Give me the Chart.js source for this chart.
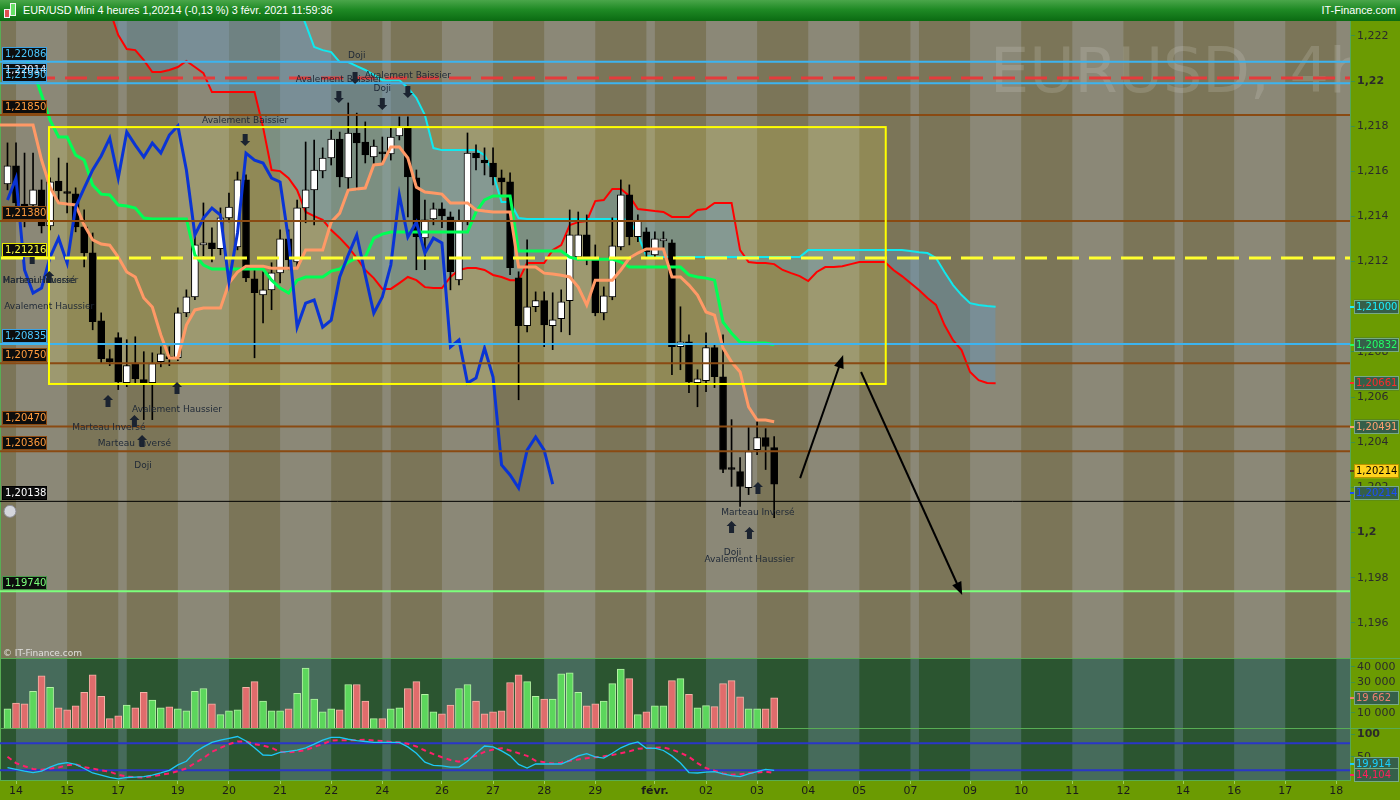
<!DOCTYPE html>
<html lang="fr">
<head>
<meta charset="UTF-8" />
<title>EUR/USD Mini 4 heures</title>
<style>
  html, body { margin: 0; padding: 0; }
  body {
    width: 1400px;
    height: 800px;
    overflow: hidden;
    position: relative;
    background: #6b9b02;
    font-family: 'DejaVu Sans', sans-serif;
  }
  #bar {
    position: absolute;
    left: 0; top: 0;
    width: 1400px; height: 21px;
    background: linear-gradient(#4aa64a 0%, #1f8a25 45%, #0b6b12 100%);
    color: #fff;
    font: 10.8px 'Liberation Sans', Arial, sans-serif;
    line-height: 21px;
  }
  #bar .t { position: absolute; left: 23px; top: 0; }
  #bar .site { position: absolute; right: 4px; top: 0; }
  #bar .ic { position: absolute; border: 1px solid #f4f4f4; }
  canvas { position: absolute; left: 0; }
</style>
</head>
<body>
<div id="bar">
  <span class="ic" style="left:4px;top:9px;width:4px;height:7px;background:#e05050"></span>
  <span class="ic" style="left:10px;top:3px;width:4px;height:11px;background:#66e066"></span>
  <span class="t">EUR/USD Mini 4 heures 1,20214 (-0,13 %) 3 févr. 2021 11:59:36</span>
  <span class="site">IT-Finance.com</span>
</div>
<canvas id="priceChart" width="1400" height="637" style="top:21px"></canvas>
<canvas id="volChart" width="1400" height="70" style="top:658px"></canvas>
<canvas id="oscChart" width="1400" height="72" style="top:728px"></canvas>

<script src="https://cdn.jsdelivr.net/npm/chart.js@4.4.0/dist/chart.umd.min.js"></script>
<script>
// ---- bougies 4h (index 0 = 13 janv. 20h) ----
const opens = [
  1.21544,1.21624,1.21455,1.21451,1.21518,1.21358,1.21557,1.21506,1.21500,1.21354,
  1.21239,1.20938,1.20770,1.20863,1.20664,1.20748,1.20677,1.20664,1.20757,1.20775,
  1.20774,1.20973,1.21044,1.21274,1.21283,1.21257,1.21394,1.21265,1.21562,1.21124,
  1.21053,1.21075,1.21150,1.21301,1.21199,1.21438,1.21518,1.21602,1.21659,1.21743,
  1.21571,1.21770,1.21730,1.21664,1.21681,1.21677,1.21757,1.21796,1.21571,1.21305,
  1.21389,1.21434,1.21398,1.21119,1.21380,1.21681,1.21650,1.21637,1.21571,1.21553,
  1.21128,1.20916,1.21000,1.21027,1.20916,1.20947,1.21027,1.21221,1.21319,1.21217,
  1.20973,1.21044,1.21265,1.21496,1.21310,1.21332,1.21230,1.21292,1.21283,1.20823,
  1.20845,1.20664,1.20673,1.20819,1.20690,1.20283,1.20270,1.20199,1.20367,1.20420,
  1.20376];
const highs = [
  1.21726,1.21726,1.21681,1.21681,1.21562,1.21571,1.21659,1.21637,1.21527,1.21429,
  1.21327,1.20973,1.20810,1.20885,1.20854,1.20867,1.20801,1.20796,1.20823,1.20823,
  1.20995,1.21075,1.21327,1.21460,1.21350,1.21438,1.21504,1.21597,1.21584,1.21164,
  1.21155,1.21195,1.21341,1.21341,1.21473,1.21730,1.21739,1.21704,1.21783,1.21774,
  1.21903,1.21858,1.21819,1.21739,1.21752,1.21792,1.21841,1.21841,1.21606,1.21473,
  1.21460,1.21460,1.21420,1.21429,1.21770,1.21717,1.21704,1.21704,1.21606,1.21593,
  1.21155,1.21296,1.21066,1.21066,1.21062,1.21075,1.21429,1.21420,1.21407,1.21274,
  1.21088,1.21394,1.21562,1.21540,1.21407,1.21350,1.21332,1.21332,1.21296,1.21000,
  1.20876,1.20721,1.20885,1.20832,1.20876,1.20500,1.20332,1.20465,1.20491,1.20460,
  1.20425];
const lows = [
  1.21518,1.21429,1.21354,1.21420,1.21327,1.21341,1.21460,1.21416,1.21332,1.21177,
  1.20898,1.20752,1.20739,1.20633,1.20646,1.20659,1.20500,1.20500,1.20734,1.20739,
  1.20761,1.20956,1.21031,1.21226,1.21199,1.21230,1.21376,1.21252,1.21111,1.20774,
  1.20929,1.20987,1.21106,1.21164,1.21173,1.21372,1.21363,1.21571,1.21628,1.21531,
  1.21518,1.21518,1.21637,1.21628,1.21628,1.21650,1.21739,1.21398,1.21164,1.21164,
  1.21363,1.21350,1.21075,1.21097,1.21363,1.21606,1.21584,1.21540,1.21495,1.21142,
  1.20588,1.20889,1.20978,1.20823,1.20810,1.20889,1.20876,1.21208,1.21186,1.20960,
  1.20942,1.21031,1.21252,1.21274,1.21288,1.21217,1.21217,1.21252,1.20699,1.20721,
  1.20619,1.20557,1.20624,1.20642,1.20265,1.20204,1.20115,1.20168,1.20345,1.20279,
  1.20066];
const closes = [
  1.21624,1.21460,1.21440,1.21518,1.21358,1.21553,1.21513,1.21502,1.21354,1.21239,
  1.20934,1.20770,1.20757,1.20668,1.20739,1.20681,1.20664,1.20748,1.20792,1.20770,
  1.20973,1.21044,1.21274,1.21283,1.21257,1.21394,1.21442,1.21562,1.21128,1.21062,
  1.21075,1.21150,1.21301,1.21208,1.21438,1.21518,1.21606,1.21659,1.21743,1.21575,
  1.21770,1.21726,1.21673,1.21712,1.21677,1.21752,1.21796,1.21575,1.21310,1.21385,
  1.21434,1.21403,1.21155,1.21380,1.21681,1.21659,1.21637,1.21575,1.21553,1.21173,
  1.20916,1.21000,1.21027,1.20920,1.20942,1.21022,1.21319,1.21319,1.21221,1.20973,
  1.21049,1.21270,1.21496,1.21310,1.21380,1.21243,1.21301,1.21292,1.20823,1.20845,
  1.20668,1.20681,1.20819,1.20690,1.20279,1.20279,1.20204,1.20358,1.20420,1.20381,
  1.20214];
const volumes = [
  12500,16300,15700,23900,34100,26500,13100,11800,14400,23300,
  34700,20700,6100,8000,15000,13100,23300,18200,13100,13800,
  12500,11200,23900,25800,15700,8700,11200,11800,26500,30300,
  17600,11200,11200,12500,22700,39200,18900,10600,12500,11800,
  28400,28400,17600,6100,6100,12500,13100,25800,30300,22000,
  10600,9300,15000,25800,28400,17600,9300,10600,11200,29700,
  34700,30300,20700,18900,18900,35400,36000,23300,14400,15700,
  17600,29000,38500,32200,8700,10600,14400,14400,30900,32200,
  22000,13100,14600,14000,29000,30900,20300,12500,12500,12500,
  19662];

// ---- Ichimoku ----
const tenkanStart = -1; // the salmon line is already drawn from the left edge
const tenkan = [
  1.21805,
  1.21805,1.21805,1.21805,1.21805,1.21650,1.21530,1.21460,1.21455,1.21451,1.21362,
  1.21296,1.21278,1.21273,1.21220,1.21154,1.21132,1.21039,1.20999,1.20875,1.20773,
  1.20773,1.20919,1.20986,1.20994,1.20994,1.20994,1.21105,1.21154,1.21180,1.21180,
  1.21180,1.21171,1.21171,1.21171,1.21171,1.21251,1.21251,1.21251,1.21375,1.21415,
  1.21517,1.21522,1.21526,1.21628,1.21632,1.21708,1.21708,1.21659,1.21530,1.21508,
  1.21504,1.21499,1.21460,1.21460,1.21460,1.21429,1.21424,1.21420,1.21420,1.21420,
  1.21176,1.21176,1.21176,1.21149,1.21145,1.21140,1.21132,1.21087,1.21008,1.21118,
  1.21118,1.21118,1.21163,1.21216,1.21238,1.21256,1.21256,1.21256,1.21132,1.21132,
  1.21096,1.21052,1.20977,1.20963,1.20817,1.20755,1.20711,1.20556,1.20498,1.20498,
  1.20491];
const kijun = [
  1.22102,1.22102,1.22102,1.22049,1.21938,1.21827,1.21752,1.21752,1.21672,1.21650,
  1.21539,1.21499,1.21495,1.21451,1.21446,1.21437,1.21393,1.21389,1.21389,1.21389,
  1.21389,1.21389,1.21229,1.21185,1.21167,1.21167,1.21167,1.21167,1.21167,1.21167,
  1.21167,1.21118,1.21083,1.21061,1.21118,1.21132,1.21132,1.21132,1.21158,1.21167,
  1.21198,1.21216,1.21220,1.21304,1.21322,1.21331,1.21331,1.21331,1.21331,1.21331,
  1.21331,1.21331,1.21331,1.21331,1.21331,1.21420,1.21473,1.21491,1.21491,1.21491,
  1.21247,1.21247,1.21247,1.21247,1.21247,1.21247,1.21220,1.21211,1.21211,1.21211,
  1.21211,1.21211,1.21198,1.21176,1.21176,1.21176,1.21176,1.21176,1.21176,1.21176,
  1.21141,1.21132,1.21127,1.21118,1.20932,1.20883,1.20843,1.20839,1.20839,1.20839,
  1.20832];
const spanStart = 12; // spans projected 26 bars ahead, first visible at index 12
const spanA = [
  1.2235,1.2235,1.2235,1.2235,1.2235,1.2235,1.2235,1.2235,1.2235,1.2235,
  1.2235,1.2235,1.2235,1.2235,1.2235,1.2235,1.2235,1.2235,1.2235,1.2235,
  1.2235,1.2235,1.2235,1.22252,1.22151,1.22137,1.22128,1.22084,1.22084,1.22066,
  1.22049,1.22027,1.22004,1.22004,1.22004,1.21969,1.21925,1.21849,1.21703,1.21694,
  1.21694,1.21694,1.21694,1.21694,1.21672,1.21592,1.21464,1.21464,1.21393,1.21389,
  1.21389,1.21389,1.21389,1.21389,1.21389,1.21389,1.21389,1.21389,1.21389,1.21389,
  1.21389,1.21384,1.21318,1.21225,1.21220,1.21220,1.21220,1.21220,1.21220,1.21220,
  1.21220,1.21220,1.21220,1.21220,1.21220,1.21220,1.21220,1.21220,1.21220,1.21220,
  1.21220,1.21220,1.21251,1.21251,1.21251,1.21251,1.21251,1.21251,1.21251,1.21251,
  1.21251,1.21251,1.21251,1.21251,1.21247,1.21242,1.21238,1.21216,1.21154,1.21096,
  1.21052,1.21016,1.21008,1.21003,1.21000];
const spanB = [
  1.22314,1.22204,1.22142,1.22137,1.22093,1.22040,1.22040,1.22049,1.22062,1.22089,
  1.22062,1.22035,1.21951,1.21951,1.21951,1.21951,1.21951,1.21951,1.21796,1.21606,
  1.21601,1.21570,1.21517,1.21420,1.21402,1.21385,1.21340,1.21305,1.21265,1.21216,
  1.21163,1.21127,1.21079,1.21079,1.21105,1.21132,1.21118,1.21087,1.21083,1.21083,
  1.21132,1.21163,1.21172,1.21172,1.21163,1.21141,1.21132,1.21118,1.21118,1.21194,
  1.21194,1.21194,1.21251,1.21273,1.21362,1.21375,1.21380,1.21468,1.21473,1.21522,
  1.21522,1.21491,1.21433,1.21429,1.21424,1.21420,1.21398,1.21398,1.21398,1.21429,
  1.21433,1.21460,1.21460,1.21460,1.21251,1.21198,1.21194,1.21194,1.21189,1.21163,
  1.21149,1.21136,1.21114,1.21154,1.21176,1.21176,1.21180,1.21189,1.21198,1.21198,
  1.21198,1.21198,1.21163,1.21136,1.21105,1.21074,1.21039,1.21008,1.20919,1.20852,
  1.20808,1.20711,1.20675,1.20662,1.20661];
const chikou = [
  1.21473,1.21570,1.21163,1.21061,1.21083,1.21220,1.21304,1.21194,1.21442,1.21526,
  1.21606,1.21668,1.21747,1.21570,1.21774,1.21716,1.21663,1.21725,1.21681,1.21761,
  1.21801,1.21606,1.21318,1.21393,1.21437,1.21406,1.21110,1.21327,1.21681,1.21650,
  1.21637,1.21570,1.21553,1.21296,1.20910,1.21016,1.21030,1.20910,1.20941,1.21132,
  1.21229,1.21318,1.21141,1.20972,1.21043,1.21185,1.21495,1.21309,1.21375,1.21238,
  1.21304,1.21283,1.20822,1.20853,1.20662,1.20684,1.20817,1.20689,1.20299,1.20255,
  1.20197,1.20365,1.20423,1.20365,1.20214];

// ---- stochastique ----
const stochK = [
  26,22,18,15,18,27,34,37,33,24, 14,9,4,1,4,5,6,9,14,20,
  32,40,60,72,82,87,91,95,85,70, 54,53,60,62,65,70,78,87,93,93,
  89,86,84,82,82,82,82,72,58,38, 31,30,27,27,40,58,74,72,63,52,
  33,25,34,34,34,34,42,52,57,50, 47,58,70,78,83,69,69,64,52,36,
  15,14,16,17,12,8,6,12,17,22, 19.914];
const stochD = [
  50,36,29,23,21,24,26,31,33,27, 24,20,17,10,6,5,4,7,10,13,
  18,24,36,47,61,70,78,84,84,78, 75,70,61,60,62,65,72,78,86,87,
  87,87,88,86,85,83,82,79,73,64, 56,49,43,39,47,52,61,66,69,64,
  58,52,41,38,35,37,41,44,47,49, 51,54,58,62,68,69,70,71,66,59,
  50,36,25,19,13,10,11,14,15,17, 14.104];
const stochLevels = [80, 20];

// ---- niveaux, zone, tracés ----
const levelValues = [1.22086, 1.22014, 1.21990, 1.21850, 1.21380, 1.21216, 1.20835, 1.20750, 1.20470, 1.20360, 1.20138, 1.19740];
const zoneIdx = [4.87, 103.1];
const zonePrice = [1.20658, 1.21796];
const trendFromIdx = [93.05, 100.2];
const trendFromPrice = [1.20241, 1.20711];
const trendToIdx = [98.1, 112.07];
const trendToPrice = [1.20786, 1.19723];

const patternIdx = [41.0, 38.9, 47.0, 44.0, 27.9, 3.7, 3.9, 4.9, 19.9, 11.9, 14.9, 15.9, 88.1, 85.1, 87.1];
const patternPrice = [1.22111, 1.22004, 1.22026, 1.21965, 1.21823, 1.21114, 1.21114, 1.20999, 1.20543, 1.20463, 1.20392, 1.20294, 1.20086, 1.19909, 1.19878];
const patternText = ['Doji', 'Avalement Baissier', 'Avalement Baissier', 'Doji', 'Avalement Baissier',
  'Marteau Inversé', 'Harami Haussier', 'Avalement Haussier', 'Avalement Haussier', 'Marteau Inversé',
  'Marteau Inversé', 'Doji', 'Marteau Inversé', 'Doji', 'Avalement Haussier'];
const markIdx = [38.9, 40.8, 44.0, 47.0, 27.9, 2.9, 4.9, 11.8, 14.9, 15.8, 19.9, 88.1, 85.0, 87.1];
const markPrice = [1.21929, 1.22013, 1.21898, 1.21951, 1.21739, 1.21216, 1.21132, 1.20582, 1.20494, 1.20405, 1.20640, 1.20197, 1.20024, 1.19998];
const markDir = [-1, -1, -1, -1, -1, 1, 1, 1, 1, 1, 1, 1, 1, 1];

// ---- axes ----
const dayStarts = [1, 7, 13, 14, 20, 26, 32, 38, 44, 45, 51, 57, 63, 69, 75, 76, 82, 88, 94, 100, 106, 107, 113, 119, 125, 131, 137, 138, 144, 150, 156];
const dayTickIdx = [1, 7, 13, 20, 26, 32, 38, 44, 51, 57, 63, 69, 76, 82, 88, 94, 100, 106, 113, 119, 125, 131, 138, 144, 150, 156];
const dayTickLabels = ['14', '15', '17', '19', '20', '21', '22', '24', '26', '27', '28', '29', 'févr.', '02', '03', '04', '05', '07', '09', '10', '11', '12', '14', '16', '17', '18'];
const priceTicks = [1.196, 1.198, 1.2, 1.202, 1.204, 1.206, 1.208, 1.21, 1.212, 1.214, 1.216, 1.218, 1.22, 1.222];
const volumeTicks = [10000, 20000, 30000, 40000];
const oscTicks = [50, 100];

// ---------------- styles ----------------
const X_MIN = -0.88, X_MAX = 157.6;
const FONT = "'DejaVu Sans', sans-serif";
const BLUE_LVL = { line: '#3cb4f0', width: 2, dash: [], text: '#4cc8ff', box: '#3ca0e0' };
const BROWN_LVL = { line: '#8a4a12', width: 2, dash: [], text: '#ff9b3d', box: '#8a4a12' };
const levelStyles = [
  BLUE_LVL,
  { line: '#e43c3c', width: 3, dash: [22, 10], text: '#e8eeff', box: '#3ca0e0' },
  BLUE_LVL, BROWN_LVL, BROWN_LVL,
  { line: '#ffff30', width: 3, dash: [22, 10], text: '#ffff40', box: '#e6e600' },
  BLUE_LVL, BROWN_LVL, BROWN_LVL, BROWN_LVL,
  { line: '#000000', width: 1, dash: [], text: '#ffffff', box: '#000000' },
  { line: '#7cff7c', width: 2, dash: [], text: '#7cff7c', box: '#4a9a4a' }
];

const pts = (vals, start = 0) => vals.map((v, k) => ({ x: start + k, y: v }));
const last = arr => arr[arr.length - 1];
const fmtPrice = (v, d) => v.toFixed(d).replace('.', ',');
const fmtAxis = v => v.toFixed(3).replace(/0+$/, '').replace(/\.$/, '').replace('.', ',');
const fmtVol = v => String(Math.round(v)).replace(/\B(?=(\d{3})+(?!\d))/g, ' ');

function fixWidth(s) { s.width = 50; s.paddingTop = 0; s.paddingBottom = 0; }

function paintDays(ctx, a, x, dark, light) {
  ctx.save();
  ctx.fillStyle = dark;
  ctx.fillRect(a.left, a.top, a.width, a.height);
  ctx.fillStyle = light;
  for (let k = 0; k < dayStarts.length; k += 2) {
    const x1 = Math.max(a.left, x.getPixelForValue(dayStarts[k]));
    const x2 = Math.min(a.right, k + 1 < dayStarts.length ? x.getPixelForValue(dayStarts[k + 1]) : a.right);
    if (x2 > x1) ctx.fillRect(x1, a.top, x2 - x1, a.height);
  }
  // left border of the panel
  ctx.fillStyle = '#58ad54';
  ctx.fillRect(a.left, a.top, 1, a.height);
  ctx.restore();
}

function drawTag(ctx, y, text, fg, bg, border, mark) {
  ctx.save();
  ctx.fillStyle = mark;
  ctx.fillRect(1350, Math.round(y) - 1, 4, 2);
  ctx.fillStyle = bg;
  ctx.fillRect(1354, y - 7, 45, 14);
  ctx.strokeStyle = border;
  ctx.lineWidth = 1;
  ctx.strokeRect(1354.5, Math.round(y) - 6.5, 44, 13);
  ctx.fillStyle = fg;
  ctx.font = '10px ' + FONT;
  ctx.textBaseline = 'middle';
  ctx.textAlign = 'left';
  ctx.fillText(text, 1356, Math.round(y) + 0.5);
  ctx.restore();
}

function drawMark(ctx, cx, cy, dir) {
  ctx.beginPath();
  ctx.moveTo(cx, cy - 6 * dir);
  ctx.lineTo(cx + 5, cy - 1 * dir);
  ctx.lineTo(cx + 2.5, cy - 1 * dir);
  ctx.lineTo(cx + 2.5, cy + 6 * dir);
  ctx.lineTo(cx - 2.5, cy + 6 * dir);
  ctx.lineTo(cx - 2.5, cy - 1 * dir);
  ctx.lineTo(cx - 5, cy - 1 * dir);
  ctx.closePath();
  ctx.fill();
}

function arrowLine(ctx, x1, y1, x2, y2) {
  const a = Math.atan2(y2 - y1, x2 - x1);
  const L = 13, w = 5;
  ctx.beginPath();
  ctx.moveTo(x1, y1);
  ctx.lineTo(x2 - (L - 2) * Math.cos(a), y2 - (L - 2) * Math.sin(a));
  ctx.stroke();
  ctx.beginPath();
  ctx.moveTo(x2, y2);
  ctx.lineTo(x2 - L * Math.cos(a) + w * Math.sin(a), y2 - L * Math.sin(a) - w * Math.cos(a));
  ctx.lineTo(x2 - L * Math.cos(a) - w * Math.sin(a), y2 - L * Math.sin(a) + w * Math.cos(a));
  ctx.closePath();
  ctx.fill();
}

// ---------------- graphique des prix ----------------
const pricePanel = {
  id: 'pricePanel',
  beforeDraw(chart) {
    const { ctx, chartArea: a, scales: { x, y } } = chart;
    paintDays(ctx, a, x, '#7b7558', '#8b8877');
    ctx.save();
    ctx.beginPath();
    ctx.rect(a.left, a.top, a.width, a.height);
    ctx.clip();
    ctx.font = "62px 'DejaVu Sans', sans-serif";
    ctx.fillStyle = 'rgba(215,215,205,0.2)';
    ctx.textBaseline = 'alphabetic';
    ctx.fillText('EURUSD, 4h', 990, 71);
    const zx1 = x.getPixelForValue(zoneIdx[0]), zx2 = x.getPixelForValue(zoneIdx[1]);
    const zy1 = y.getPixelForValue(zonePrice[1]), zy2 = y.getPixelForValue(zonePrice[0]);
    ctx.fillStyle = 'rgba(255,240,80,0.16)';
    ctx.fillRect(zx1, zy1, zx2 - zx1, zy2 - zy1);
    ctx.restore();
  },
  afterDatasetsDraw(chart) {
    const { ctx, chartArea: a, scales: { x, y } } = chart;
    ctx.save();
    ctx.beginPath();
    ctx.rect(a.left, a.top, a.width, a.height);
    ctx.clip();
    // zone
    const zx1 = x.getPixelForValue(zoneIdx[0]), zx2 = x.getPixelForValue(zoneIdx[1]);
    const zy1 = y.getPixelForValue(zonePrice[1]), zy2 = y.getPixelForValue(zonePrice[0]);
    ctx.strokeStyle = '#ffff00';
    ctx.lineWidth = 2;
    ctx.strokeRect(zx1, zy1, zx2 - zx1, zy2 - zy1);
    // tracés de projection
    ctx.strokeStyle = '#000';
    ctx.fillStyle = '#000';
    ctx.lineWidth = 2;
    trendFromIdx.forEach((fi, k) => {
      arrowLine(ctx, x.getPixelForValue(fi), y.getPixelForValue(trendFromPrice[k]),
        x.getPixelForValue(trendToIdx[k]), y.getPixelForValue(trendToPrice[k]));
    });
    // figures chartistes
    ctx.fillStyle = '#1b2330';
    markIdx.forEach((mi, k) => drawMark(ctx, x.getPixelForValue(mi), y.getPixelForValue(markPrice[k]), markDir[k]));
    ctx.font = '9px ' + FONT;
    ctx.textAlign = 'center';
    ctx.textBaseline = 'middle';
    ctx.fillStyle = '#1e2836';
    patternIdx.forEach((pi, k) => ctx.fillText(patternText[k], x.getPixelForValue(pi), y.getPixelForValue(patternPrice[k])));
    // étiquettes des niveaux
    levelValues.forEach((v, k) => {
      const py = Math.round(y.getPixelForValue(v));
      ctx.fillStyle = '#0d0d0d';
      ctx.fillRect(2, py - 15, 45, 14);
      ctx.strokeStyle = levelStyles[k].box;
      ctx.lineWidth = 1;
      ctx.strokeRect(2.5, py - 14.5, 44, 13);
    });
    ctx.font = '10px ' + FONT;
    ctx.textAlign = 'left';
    levelValues.forEach((v, k) => {
      const py = Math.round(y.getPixelForValue(v));
      ctx.fillStyle = levelStyles[k].text;
      ctx.fillText(fmtPrice(v, 5), 5, py - 7.5);
    });
    // icône + copyright
    ctx.fillStyle = '#d4d6dc';
    ctx.strokeStyle = '#8c8c96';
    ctx.lineWidth = 1;
    ctx.beginPath();
    ctx.arc(10, y.getPixelForValue(1.20138) + 10, 6, 0, Math.PI * 2);
    ctx.fill();
    ctx.stroke();
    ctx.font = '9px ' + FONT;
    ctx.fillStyle = 'rgba(238,238,238,0.85)';
    ctx.textBaseline = 'alphabetic';
    ctx.fillText('© IT-Finance.com', 3, a.bottom - 2);
    ctx.restore();
  },
  afterDraw(chart) {
    const { ctx, scales: { y } } = chart;
    const bg = '#355f49', bd = '#76aa86';
    drawTag(ctx, y.getPixelForValue(last(spanA)), fmtPrice(last(spanA), 5), '#19f0ff', bg, bd, '#19f0ff');
    drawTag(ctx, y.getPixelForValue(last(kijun)), fmtPrice(last(kijun), 5), '#22ff66', bg, bd, '#22ff66');
    drawTag(ctx, y.getPixelForValue(last(spanB)), fmtPrice(last(spanB), 5), '#ff2a2a', bg, bd, '#ff2a2a');
    drawTag(ctx, y.getPixelForValue(last(tenkan)) + 5, fmtPrice(last(tenkan), 5), '#ffa070', bg, bd, '#ffa070');
    drawTag(ctx, y.getPixelForValue(last(closes)) - 13, fmtPrice(last(closes), 5), '#000000', '#ffd21c', '#b89400', '#5a3a20');
    drawTag(ctx, y.getPixelForValue(last(chikou)) + 9, fmtPrice(last(chikou), 5), '#1a4dff', bg, bd, '#1a4dff');
  }
};

const line = (data, color, width, order, extra) => Object.assign({
  type: 'line', data, borderColor: color, borderWidth: width,
  pointRadius: 0, tension: 0, fill: false, order
}, extra || {});

const levelSets = levelValues.map((v, k) => line(
  [{ x: X_MIN, y: v }, { x: X_MAX, y: v }],
  levelStyles[k].line, levelStyles[k].width, 1,
  { borderDash: levelStyles[k].dash, borderDashOffset: 31 }
));

new Chart(document.getElementById('priceChart'), {
  type: 'line',
  data: {
    datasets: [
      line(pts(spanB, spanStart), '#ff0000', 2, 10),
      line(pts(spanA, spanStart), '#11e8ee', 2, 9, { fill: '-1', backgroundColor: 'rgba(90,155,208,0.35)' }),
      {
        type: 'bar', data: lows.map((l, k) => ({ x: k, y: [l, highs[k]] })),
        backgroundColor: '#000', barThickness: 1, grouped: false, order: 7
      },
      {
        type: 'bar', data: opens.map((o, k) => ({ x: k, y: [o, closes[k]] })),
        backgroundColor: opens.map((o, k) => closes[k] >= o ? '#ffffff' : '#000000'),
        borderColor: '#000', borderWidth: 1, borderSkipped: false,
        barThickness: 7, minBarLength: 2, grouped: false, order: 6
      },
      line(pts(kijun), '#00ff55', 3, 5),
      line(pts(tenkan, tenkanStart), '#ff9966', 3, 4),
      line(pts(chikou), '#0a34d4', 3, 3),
      ...levelSets
    ]
  },
  options: {
    responsive: false,
    animation: false,
    events: [],
    layout: { padding: 0 },
    plugins: {
      legend: { display: false },
      tooltip: { enabled: false },
      filler: { drawTime: 'beforeDatasetsDraw' }
    },
    scales: {
      x: { type: 'linear', min: X_MIN, max: X_MAX, offset: false, display: false },
      y: {
        position: 'right', min: 1.19444, max: 1.22266,
        afterFit: fixWidth,
        afterBuildTicks: s => { s.ticks = priceTicks.map(v => ({ value: v })); },
        grid: { drawOnChartArea: false, tickLength: 5, color: '#3d8f4a' },
        border: { color: '#55a85a' },
        ticks: {
          padding: 2, color: '#2b2b2b',
          font: c => ({ family: FONT, size: 11, weight: (c.tick && Math.abs(c.tick.value * 100 - Math.round(c.tick.value * 100)) < 1e-6) ? 'bold' : 'normal' }),
          callback: v => fmtAxis(v)
        }
      }
    }
  },
  plugins: [pricePanel]
});

// ---------------- volumes ----------------
const lowerPanel = (tags) => ({
  id: 'lowerPanel',
  beforeDraw(chart) {
    const { ctx, chartArea: a, scales: { x } } = chart;
    paintDays(ctx, a, x, '#2b5530', '#466b5b');
  },
  afterDraw(chart) {
    const { ctx, scales: { y } } = chart;
    ctx.save();
    ctx.fillStyle = '#58ad54';
    ctx.fillRect(0, 0, 1400, 1);
    ctx.restore();
    tags(ctx, y);
  }
});

new Chart(document.getElementById('volChart'), {
  type: 'bar',
  data: {
    datasets: [{
      data: pts(volumes),
      backgroundColor: opens.map((o, k) => closes[k] >= o ? '#5cd65c' : '#e06c6c'),
      borderColor: opens.map((o, k) => closes[k] >= o ? '#b4f2a4' : '#f4b4a8'),
      borderWidth: 1, barThickness: 7
    }]
  },
  options: {
    responsive: false, animation: false, events: [],
    layout: { padding: 0 },
    plugins: { legend: { display: false }, tooltip: { enabled: false } },
    scales: {
      x: { type: 'linear', min: X_MIN, max: X_MAX, offset: false, display: false },
      y: {
        position: 'right', min: 0, max: 45700,
        afterFit: fixWidth,
        afterBuildTicks: s => { s.ticks = volumeTicks.map(v => ({ value: v })); },
        grid: { drawOnChartArea: false, tickLength: 5, color: '#3d8f4a' },
        border: { color: '#55a85a' },
        ticks: { padding: 2, color: '#2b2b2b', font: { family: FONT, size: 11 }, callback: v => fmtVol(v) }
      }
    }
  },
  plugins: [lowerPanel((ctx, y) => {
    drawTag(ctx, y.getPixelForValue(last(volumes)), fmtVol(last(volumes)), '#f08070', '#355f49', '#76aa86', '#f08070');
  })]
});

// ---------------- stochastique ----------------
new Chart(document.getElementById('oscChart'), {
  type: 'line',
  data: {
    datasets: [
      ...stochLevels.map(v => line([{ x: X_MIN, y: v }, { x: X_MAX, y: v }], '#2a36c8', 2, 3)),
      line(pts(stochD), '#ff1f6b', 2, 2, { borderDash: [5, 4] }),
      line(pts(stochK), '#1ec8f5', 1.3, 1)
    ]
  },
  options: {
    responsive: false, animation: false, events: [],
    layout: { padding: 0 },
    plugins: { legend: { display: false }, tooltip: { enabled: false } },
    scales: {
      x: {
        type: 'linear', min: X_MIN, max: X_MAX, offset: false,
        afterBuildTicks: s => { s.ticks = dayTickIdx.map(v => ({ value: v })); },
        afterFit: s => { s.height = 20; s.paddingLeft = 0; s.paddingRight = 0; },
        grid: { drawOnChartArea: false, tickLength: 4, color: '#9ccc60' },
        border: { color: '#58ad54' },
        ticks: {
          autoSkip: false, maxRotation: 0, minRotation: 0, padding: 1, color: '#1b1b1b',
          font: c => ({ family: FONT, size: 11, weight: c.index === 12 ? 'bold' : 'normal' }),
          callback: (v, i) => dayTickLabels[i]
        }
      },
      y: {
        position: 'right', min: -1.6, max: 114,
        afterFit: fixWidth,
        afterBuildTicks: s => { s.ticks = oscTicks.map(v => ({ value: v })); },
        grid: { drawOnChartArea: false, tickLength: 5, color: '#3d8f4a' },
        border: { color: '#55a85a' },
        ticks: {
          padding: 2, color: '#2b2b2b',
          font: c => ({ family: FONT, size: 11, weight: c.tick && c.tick.value === 100 ? 'bold' : 'normal' }),
          callback: v => String(v)
        }
      }
    }
  },
  plugins: [lowerPanel((ctx, y) => {
    drawTag(ctx, y.getPixelForValue(last(stochK)) - 6, fmtPrice(last(stochK), 3), '#19d0ff', '#355f49', '#76aa86', '#19d0ff');
    drawTag(ctx, y.getPixelForValue(last(stochD)) + 2, fmtPrice(last(stochD), 3), '#ff1f5b', '#355f49', '#76aa86', '#ff1f5b');
  })]
});
</script>
</body>
</html>
